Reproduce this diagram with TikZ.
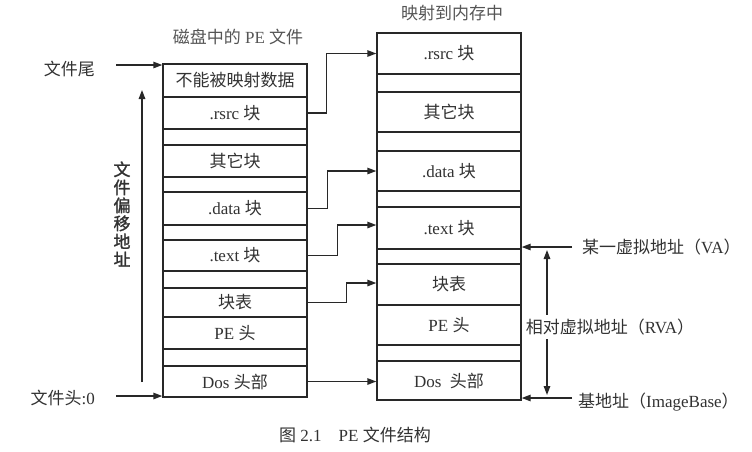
\documentclass[tikz,border=0pt]{standalone}
\usepackage{fontspec}
\setmainfont{Liberation Serif}
\newfontfamily\cjk{Noto Sans CJK SC}
\newfontfamily\cjkb[FakeBold=1.5]{Noto Sans CJK SC}
\usetikzlibrary{arrows.meta}
\newcommand\zh[1]{{\cjk #1}}
\definecolor{linec}{RGB}{40,40,40}
\definecolor{txtc}{RGB}{50,50,50}
\definecolor{ttlc}{RGB}{85,85,85}
\begin{document}
\begin{tikzpicture}[x=1pt,y=-1pt,
  font=\fontsize{17}{20}\selectfont, text=txtc,
  rowL/.style={draw=linec, line width=1.4pt, minimum width=144pt, minimum height=#1, inner sep=0pt},
  arr/.style={draw=linec, line width=1.4pt, -{Triangle[length=9pt,width=6.5pt]}},
  dblarr/.style={draw=linec, line width=1.4pt, {Triangle[length=9pt,width=6.5pt]}-{Triangle[length=9pt,width=6.5pt]}},
  lbl/.style={inner sep=0pt},
  ttl/.style={inner sep=0pt, text=ttlc}]
\useasboundingbox (0,0) rectangle (752,451);
\fill[white] (0,0) rectangle (752,451);

% titles
\node[ttl] (t1) at (238,37) {\zh{磁盘中的} PE \zh{文件}};
\node[ttl] (t2) at (452,13) {\zh{映射到内存中}};

% left column (disk)
\node[rowL=33pt] (L1) at (235,80.5) {\zh{不能被映射数据}};
\node[rowL=32pt] (L2) at (235,113) {.rsrc \zh{块}};
\node[rowL=16pt] (L3) at (235,137) {};
\node[rowL=32pt] (L4) at (235,161) {\zh{其它块}};
\node[rowL=15pt] (L5) at (235,184.5) {};
\node[rowL=33pt] (L6) at (235,208.5) {.data \zh{块}};
\node[rowL=15pt] (L7) at (235,232.5) {};
\node[rowL=31pt] (L8) at (235,255.5) {.text \zh{块}};
\node[rowL=17pt] (L9) at (235,279.5) {};
\node[rowL=29pt] (L10) at (235,302.5) {\zh{块表}};
\node[rowL=32pt] (L11) at (235,333) {PE \zh{头}};
\node[rowL=17pt] (L12) at (235,357.5) {};
\node[rowL=31pt] (L13) at (235,381.5) {Dos \zh{头部}};

% right column (memory)
\node[rowL=41pt] (R1) at (449,53.5) {.rsrc \zh{块}};
\node[rowL=18pt] (R2) at (449,83) {};
\node[rowL=40pt] (R3) at (449,112) {\zh{其它块}};
\node[rowL=19pt] (R4) at (449,141.5) {};
\node[rowL=40pt] (R5) at (449,171) {.data \zh{块}};
\node[rowL=16pt] (R6) at (449,199) {};
\node[rowL=42pt] (R7) at (449,228) {.text \zh{块}};
\node[rowL=15pt] (R8) at (449,256.5) {};
\node[rowL=41pt] (R9) at (449,284.5) {\zh{块表}};
\node[rowL=40pt] (R10) at (449,325) {PE \zh{头}};
\node[rowL=16pt] (R11) at (449,353) {};
\node[rowL=39pt] (R12) at (449,380.5) {Dos\ \ \zh{头部}};

% mapping connectors
\draw[arr] (L2.east) -- ++(19,0) |- (R1.west);
\draw[arr] (L6.east) -- ++(20,0) |- (R5.west);
\draw[arr] (L8.east) -- ++(30,0) |- ([yshift=3pt]R7.west);
\draw[arr] (L10.east) -- ++(39,0) |- ([yshift=1.5pt]R9.west);
\draw[arr] (L13.east) -- (L13.east -| R12.west);

% left annotations
\node[lbl, anchor=east] (tail) at (95,69) {\zh{文件尾}};
\node[lbl, anchor=east] (head) at (95,398) {\zh{文件头}:0};
\coordinate (tailS) at (116,65);
\coordinate (headS) at (116,396);
\draw[arr] (tailS) -- (tailS -| L1.west);
\draw[arr] (headS) -- (headS -| L13.west);
\coordinate (offB) at (142,382);
\coordinate (offT) at (142,90);
\draw[arr] (offB) -- (offT);
\node[lbl, align=center, font=\cjkb\fontsize{17}{18}\selectfont] (off) at (122,214) {文\\件\\偏\\移\\地\\址};

% right annotations
\coordinate (vaS) at (572,247);
\coordinate (ibS) at (572,398);
\draw[arr] (vaS) -- (vaS -| R8.east);
\draw[arr] (ibS) -- (ibS -| R12.east);
\node[lbl, anchor=west] (va) at (582,247) {\zh{某一虚拟地址（}VA\zh{）}};
\node[lbl, anchor=west] (ib) at (578,402) {\zh{基地址（}ImageBase\zh{）}};
\coordinate (rvaT) at (547,250);
\coordinate (rvaB) at (547,395);
\draw[dblarr] (rvaT) -- (rvaB);
\node[lbl, fill=white, inner ysep=4pt] (rva) at (610,327) {\zh{相对虚拟地址（}RVA\zh{）}};

% caption
\node[lbl] (cap) at (355,435) {\zh{图} 2.1\quad PE \zh{文件结构}};
\end{tikzpicture}
\end{document}
